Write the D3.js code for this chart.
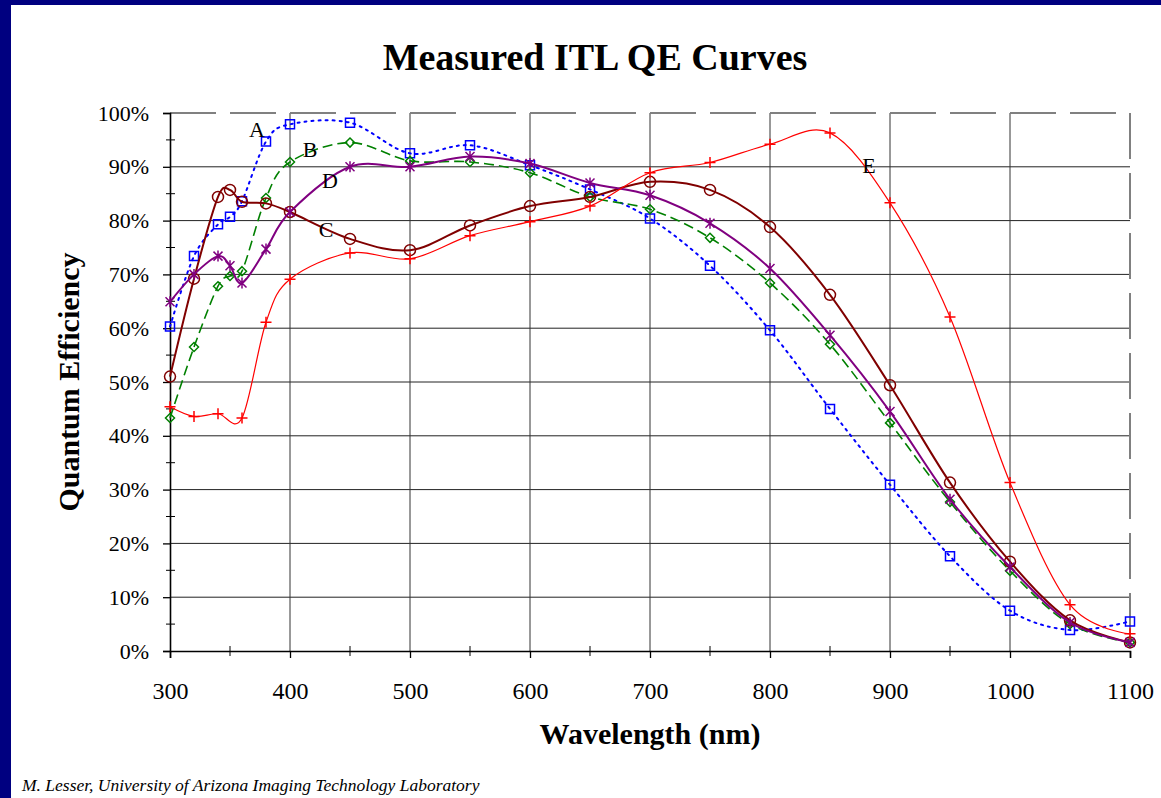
<!DOCTYPE html>
<html>
<head>
<meta charset="utf-8">
<script src="https://cdn.jsdelivr.net/npm/d3@7"></script>
<style>
  html, body { margin: 0; padding: 0; background: #fff; }
  svg { display: block; }
  text { font-family: 'Liberation Serif', 'Times New Roman', serif; fill: #000; }
</style>
</head>
<body>
<svg id="chart" width="1161" height="798"></svg>
<script>
(function (d3) {
  'use strict';

  // wavelengths (nm)
  const waves = [300, 320, 340, 350, 360, 380, 400, 450, 500, 550, 600, 650,
    700, 750, 800, 850, 900, 950, 1000, 1050, 1100];
  const wavesE = [300, 320, 340, 360, 380, 400, 450, 500, 550, 600, 650,
    700, 750, 800, 850, 900, 950, 1000, 1050, 1100];

  // QE (%)
  const qeA = [60.3, 73.4, 79.3, 80.7, 83.6, 94.7, 97.9, 98.2, 92.5, 94.0, 90.3, 85.8,
    80.4, 71.6, 59.6, 45.0, 30.9, 17.6, 7.5, 3.9, 5.5];
  const qeB = [43.3, 56.5, 67.8, 69.7, 70.6, 84.2, 90.9, 94.5, 91.1, 90.9, 88.9, 84.4,
    82.1, 76.8, 68.4, 57.0, 42.4, 27.7, 14.9, 5.0, 1.6];
  const qeC = [51.0, 69.2, 84.4, 85.7, 83.5, 83.2, 81.6, 76.6, 74.5, 79.1, 82.7, 84.4,
    87.2, 85.7, 78.8, 66.2, 49.4, 31.3, 16.6, 5.7, 1.6];
  const qeD = [64.9, 70.0, 73.4, 71.6, 68.4, 74.7, 81.6, 90.0, 90.0, 91.9, 90.6, 87.0,
    84.7, 79.5, 71.1, 58.7, 44.5, 28.2, 15.6, 5.3, 1.6];
  const qeE = [45.4, 43.6, 44.1, 43.3, 61.1, 69.1, 74.0, 72.9, 77.2, 79.8, 82.7,
    88.9, 90.8, 94.2, 96.3, 83.3, 62.1, 31.3, 8.6, 3.2];

  const xTicks = [300, 400, 500, 600, 700, 800, 900, 1000, 1100];
  const yTicks = [0, 10, 20, 30, 40, 50, 60, 70, 80, 90, 100];

  // curve labels: [text, wavelength, QE]
  const curveLabels = [
    ['A', 372.5, 95.5],
    ['B', 416.7, 91.8],
    ['D', 433.3, 86.1],
    ['C', 430.0, 77.0],
    ['E', 882.5, 88.8]
  ];

  const series = [
    { name: 'A', x: waves, y: qeA, color: '#0000ff', width: 2, dash: '2,5', marker: 'square' },
    { name: 'B', x: waves, y: qeB, color: '#008000', width: 1.6, dash: '10,5', marker: 'diamond' },
    { name: 'C', x: waves, y: qeC, color: '#800000', width: 2, dash: null, marker: 'circle' },
    { name: 'D', x: waves, y: qeD, color: '#800080', width: 2, dash: null, marker: 'star' },
    { name: 'E', x: wavesE, y: qeE, color: '#ff0000', width: 1.2, dash: null, marker: 'plus' }
  ];

  const width = 1161;
  const height = 798;
  const margin = { top: 113, right: 31, bottom: 147, left: 170 };

  const svg = d3.select('#chart');

  // navy frame on top and left
  svg.append('rect').attr('x', 0).attr('y', 0).attr('width', width).attr('height', 5).attr('fill', '#000080');
  svg.append('rect').attr('x', 0).attr('y', 0).attr('width', 11).attr('height', height).attr('fill', '#000080');

  const xScale = d3.scaleLinear()
    .domain([300, 1100])
    .range([margin.left, width - margin.right]);
  const yScale = d3.scaleLinear()
    .domain([0, 100])
    .range([height - margin.bottom, margin.top]);

  const x0 = xScale(300), x1 = xScale(1100);
  const y0 = yScale(0), y1 = yScale(100);

  // grid
  const grid = svg.append('g');
  grid.selectAll('line.h')
    .data(yTicks.filter(d => d > 0 && d < 100))
    .join('line')
    .attr('x1', x0).attr('x2', x1)
    .attr('y1', d => yScale(d)).attr('y2', d => yScale(d))
    .attr('stroke', '#222').attr('stroke-width', 1);
  grid.selectAll('line.v')
    .data(xTicks.filter(d => d > 300 && d < 1100))
    .join('line')
    .attr('x1', d => xScale(d)).attr('x2', d => xScale(d))
    .attr('y1', y1).attr('y2', y0)
    .attr('stroke', '#333').attr('stroke-width', 1);

  // dashed frame top/right
  svg.append('path')
    .attr('d', `M${x0},${y1}H${x1}V${y0}`)
    .attr('fill', 'none')
    .attr('stroke', '#808080')
    .attr('stroke-width', 2)
    .attr('stroke-dasharray', '46,14');

  // axes
  const yAxis = svg.append('g')
    .attr('transform', `translate(${x0},0)`)
    .call(d3.axisLeft(yScale).tickValues(yTicks).tickSize(7).tickPadding(14)
      .tickFormat(d => d + '%'));
  yAxis.select('.domain').attr('stroke', '#000').attr('stroke-width', 1.6);
  yAxis.selectAll('.tick line').attr('stroke', '#000').attr('stroke-width', 1.3);
  yAxis.selectAll('.tick text')
    .attr('font-size', 22)
    .attr('font-family', "'Liberation Serif', 'Times New Roman', serif")
    .attr('fill', '#000');

  const xAxis = svg.append('g')
    .attr('transform', `translate(0,${y0})`)
    .call(d3.axisBottom(xScale).tickValues(xTicks).tickSize(7).tickPadding(24)
      .tickFormat(d3.format('d')));
  xAxis.select('.domain').attr('stroke', '#000').attr('stroke-width', 1.6);
  xAxis.selectAll('.tick line').attr('stroke', '#000').attr('stroke-width', 1.3);
  xAxis.selectAll('.tick text')
    .attr('font-size', 24)
    .attr('font-family', "'Liberation Serif', 'Times New Roman', serif")
    .attr('fill', '#000');

  // minor ticks crossing the axes
  svg.append('g').selectAll('line')
    .data(d3.range(5, 100, 10))
    .join('line')
    .attr('x1', x0 - 4).attr('x2', x0 + 5)
    .attr('y1', d => yScale(d)).attr('y2', d => yScale(d))
    .attr('stroke', '#000').attr('stroke-width', 1);
  svg.append('g').selectAll('line')
    .data(d3.range(350, 1100, 100))
    .join('line')
    .attr('x1', d => xScale(d)).attr('x2', d => xScale(d))
    .attr('y1', y0 - 5).attr('y2', y0 + 5)
    .attr('stroke', '#000').attr('stroke-width', 1);

  // curves
  const line = d3.line()
    .x(d => xScale(d[0]))
    .y(d => yScale(d[1]))
    .curve(d3.curveCardinal.tension(0));

  const markerPath = (type) => {
    switch (type) {
      case 'square': return 'M-4.5,-4.5H4.5V4.5H-4.5Z';
      case 'diamond': return 'M0,-4.5L4.5,0L0,4.5L-4.5,0Z';
      case 'circle': return 'M-5.5,0A5.5,5.5 0 1,0 5.5,0A5.5,5.5 0 1,0 -5.5,0Z';
      case 'star': return 'M-4.5,-4.5L4.5,4.5M-4.5,4.5L4.5,-4.5M0,-5.5V5.5';
      case 'plus': return 'M-5.5,0H5.5M0,-5.5V5.5';
    }
  };

  series.forEach(s => {
    const pts = s.x.map((w, i) => [w, s.y[i]]);
    const g = svg.append('g');
    g.append('path')
      .attr('d', line(pts))
      .attr('fill', 'none')
      .attr('stroke', s.color)
      .attr('stroke-width', s.width)
      .attr('stroke-linecap', s.dash === '2,5' ? 'round' : 'butt')
      .attr('stroke-dasharray', s.dash);
    g.selectAll('path.mk')
      .data(pts)
      .join('path')
      .attr('class', 'mk')
      .attr('transform', d => `translate(${xScale(d[0])},${yScale(d[1])})`)
      .attr('d', markerPath(s.marker))
      .attr('fill', 'none')
      .attr('stroke', s.color)
      .attr('stroke-width', 1.5);
  });

  // curve letters
  svg.append('g').selectAll('text')
    .data(curveLabels)
    .join('text')
    .attr('x', d => xScale(d[1]))
    .attr('y', d => yScale(d[2]))
    .attr('text-anchor', 'middle')
    .attr('font-size', 22)
    .text(d => d[0]);

  // titles
  svg.append('text')
    .attr('x', 595).attr('y', 70)
    .attr('text-anchor', 'middle')
    .attr('font-size', 38)
    .attr('font-weight', 'bold')
    .text('Measured ITL QE Curves');

  svg.append('text')
    .attr('x', 650).attr('y', 744)
    .attr('text-anchor', 'middle')
    .attr('font-size', 30)
    .attr('font-weight', 'bold')
    .text('Wavelength (nm)');

  svg.append('text')
    .attr('transform', `translate(79,${(y0 + y1) / 2}) rotate(-90)`)
    .attr('text-anchor', 'middle')
    .attr('font-size', 30)
    .attr('font-weight', 'bold')
    .text('Quantum Efficiency');

  svg.append('text')
    .attr('x', 22).attr('y', 791)
    .attr('font-size', 17.5)
    .attr('font-style', 'italic')
    .text('M. Lesser, University of Arizona Imaging Technology Laboratory');

}(d3));
</script>
</body>
</html>
